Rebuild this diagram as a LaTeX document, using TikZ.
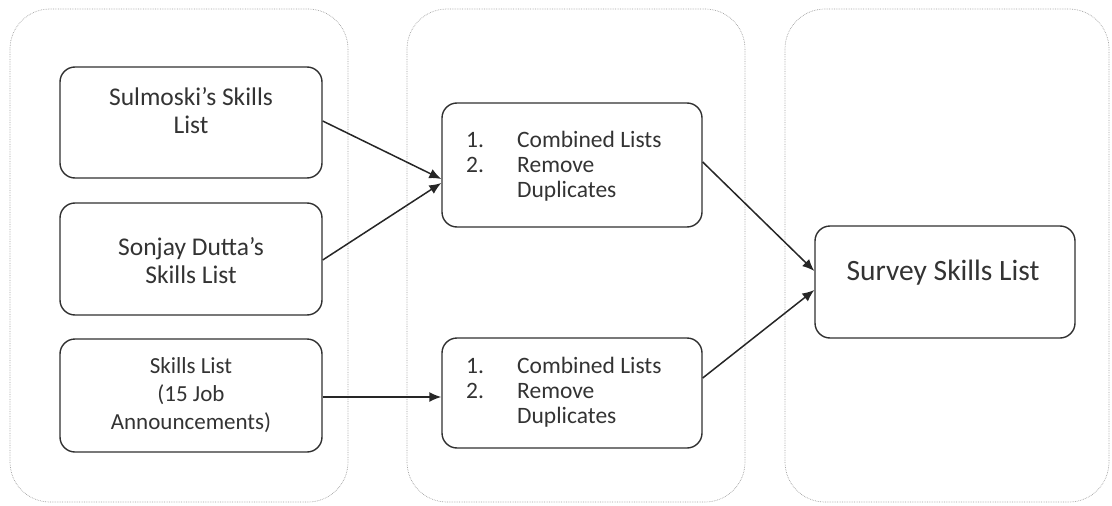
\documentclass[tikz,border=0pt]{standalone}
\usepackage{fontspec}
\setmainfont{Carlito}
\usetikzlibrary{arrows.meta}
\definecolor{txt}{HTML}{333333}
\definecolor{edge}{HTML}{303030}
\definecolor{cont}{HTML}{A0A0A0}
\tikzset{
  container/.style={draw=cont, densely dotted, line width=0.7pt, rounded corners=40pt},
  box/.style={draw=edge, line width=1.4pt, rounded corners=15pt, minimum width=262pt, inner sep=0pt},
  label/.style={text=txt, align=center, inner sep=0pt},
  conn/.style={draw=black!85, line width=1.5pt, -{Latex[length=12pt,width=10pt]}},
}
\begin{document}
\begin{tikzpicture}[x=1pt,y=-1pt]
\useasboundingbox (0,0) rectangle (1112,506);
% containers
\draw[container] (10,9) rectangle (348,502);
\draw[container] (407,9) rectangle (745,502);
\draw[container] (785,9) rectangle (1109,502);
% boxes
\node[box, minimum height=111pt] (sul) at (191,122.5) {};
\node[label, font=\fontsize{25.5}{28}\selectfont] (sult) at (191,111) {Sulmoski’s Skills\\List};
\node[box, minimum height=112pt] (son) at (191,259) {};
\node[label, font=\fontsize{25.5}{28}\selectfont] (sont) at (191,261) {Sonjay Dutta’s\\Skills List};
\node[box, minimum height=113pt] (job) at (191,395.5) {};
\node[label, font=\fontsize{23}{28}\selectfont] (jobt) at (191,395) {Skills List\\(15 Job\\Announcements)};
\node[box, minimum width=260pt, minimum height=124pt] (c1) at (572,165) {};
\node[label, align=left, anchor=west, font=\fontsize{23.5}{25}\selectfont] (c1t) at (466,166) {\makebox[51pt][l]{1.}Combined Lists\\\makebox[51pt][l]{2.}Remove\\\makebox[51pt][l]{}Duplicates};
\node[box, minimum width=260pt, minimum height=110pt] (c2) at (572,393) {};
\node[label, align=left, anchor=west, font=\fontsize{23.5}{25}\selectfont] (c2t) at (466,392) {\makebox[51pt][l]{1.}Combined Lists\\\makebox[51pt][l]{2.}Remove\\\makebox[51pt][l]{}Duplicates};
\node[box, minimum width=260pt, minimum height=112pt] (sur) at (945,282) {};
\node[label, font=\fontsize{29.5}{30}\selectfont] (surt) at (943,273) {Survey Skills List};
% connectors
\draw[conn] (sul.east |- 0,121) -- (c1.west |- 0,179);
\draw[conn] (son.east |- 0,260) -- (c1.west |- 0,183);
\draw[conn] (job.east |- 0,397) -- (c2.west |- 0,397);
\draw[conn] (c1.east |- 0,162) -- (sur.west |- 0,271);
\draw[conn] (c2.east |- 0,378) -- (sur.west |- 0,290);
\end{tikzpicture}
\end{document}
